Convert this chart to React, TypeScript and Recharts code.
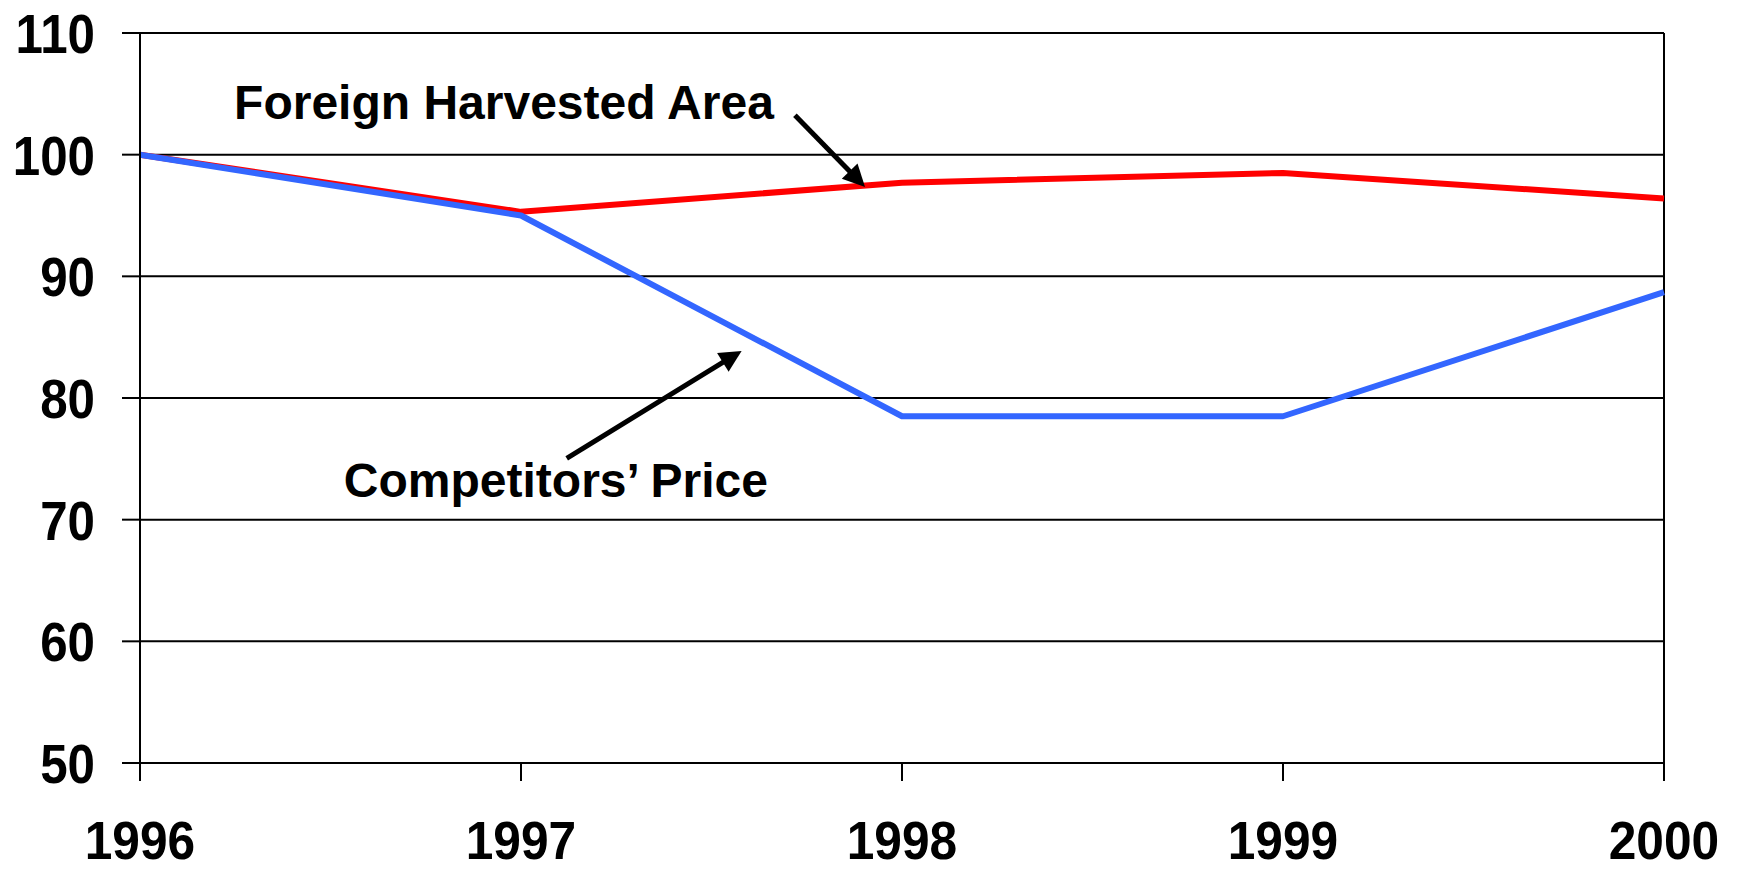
import React from "react";
import {
  LineChart,
  Line,
  XAxis,
  YAxis,
  CartesianGrid,
  ReferenceLine,
  ReferenceDot,
} from "recharts";

const years = [1996, 1997, 1998, 1999, 2000];
const foreignArea = [100, 95.3, 97.7, 98.5, 96.4];
const competitorsPrice = [100, 95.0, 78.5, 78.5, 88.7];
const yTicks = [50, 60, 70, 80, 90, 100, 110];

const annotations = [
  { text: "Foreign Harvested Area", x: 1996.247, y: 102.91 },
  { text: "Competitors\u2019 Price", x: 1996.535, y: 71.85 },
];
const arrows = [
  { from: { x: 1997.719, y: 103.24 }, to: { x: 1997.903, y: 97.35 } },
  { from: { x: 1997.12, y: 75.03 }, to: { x: 1997.579, y: 83.87 } },
];

const data = years.map((yr, i) => ({
  year: yr,
  foreign: foreignArea[i],
  price: competitorsPrice[i],
}));

const FONT = '"Liberation Sans", Arial, Helvetica, sans-serif';

const YTick = (props: any) => {
  const { x, y, payload } = props;
  return (
    <g transform={`translate(${x},${y}) scale(0.88,1)`}>
      <text
        x={0}
        y={0}
        dy={20}
        textAnchor="end"
        fontFamily={FONT}
        fontWeight="bold"
        fontSize={56}
        fill="#000"
      >
        {payload.value}
      </text>
    </g>
  );
};

const XTick = (props: any) => {
  const { x, y, payload } = props;
  return (
    <g transform={`translate(${x},${y}) scale(0.92,1)`}>
      <text
        x={0}
        y={0}
        dy={76}
        textAnchor="middle"
        fontFamily={FONT}
        fontWeight="bold"
        fontSize={54}
        fill="#000"
      >
        {payload.value}
      </text>
    </g>
  );
};

const ArrowShape = (props: any) => {
  const { x1, y1, x2, y2 } = props;
  const dx = x2 - x1;
  const dy = y2 - y1;
  const len = Math.sqrt(dx * dx + dy * dy) || 1;
  const ux = dx / len;
  const uy = dy / len;
  const headLen = 22;
  const headHalf = 11;
  const bx = x2 - ux * headLen;
  const by = y2 - uy * headLen;
  const px = -uy;
  const py = ux;
  return (
    <g>
      <line
        x1={x1}
        y1={y1}
        x2={x2 - ux * headLen * 0.7}
        y2={y2 - uy * headLen * 0.7}
        stroke="#000"
        strokeWidth={5}
      />
      <polygon
        points={`${x2},${y2} ${bx + px * headHalf},${by + py * headHalf} ${bx - px * headHalf},${by - py * headHalf}`}
        fill="#000"
      />
    </g>
  );
};

const makeTextShape = (text: string) => (props: any) => {
  const { cx, cy } = props;
  return (
    <text
      x={cx}
      y={cy}
      fontFamily={FONT}
      fontWeight="bold"
      fontSize={48}
      fill="#000"
    >
      {text}
    </text>
  );
};

export default function App() {
  return (
    <div
      style={{
        position: "absolute",
        left: 0,
        top: 0,
        width: 1738,
        height: 870,
        background: "#fff",
      }}
    >
      <LineChart
        width={1738}
        height={870}
        data={data}
        margin={{ top: 33, right: 74, bottom: 0, left: 0 }}
      >
        <CartesianGrid
          horizontal={true}
          vertical={false}
          stroke="#000"
          strokeWidth={2}
        />
        <XAxis
          dataKey="year"
          type="number"
          domain={[1996, 2000]}
          ticks={years}
          interval={0}
          height={107}
          tickSize={18}
          tickMargin={2}
          axisLine={{ stroke: "#000", strokeWidth: 2 }}
          tickLine={{ stroke: "#000", strokeWidth: 2 }}
          tick={<XTick />}
        />
        <YAxis
          type="number"
          domain={[50, 110]}
          ticks={yTicks}
          interval={0}
          width={140}
          tickSize={18}
          tickMargin={27}
          axisLine={{ stroke: "#000", strokeWidth: 2 }}
          tickLine={{ stroke: "#000", strokeWidth: 2 }}
          tick={<YTick />}
        />
        <ReferenceLine x={2000} stroke="#000" strokeWidth={2} />
        <Line
          type="linear"
          dataKey="foreign"
          stroke="#FF0000"
          strokeWidth={6}
          dot={false}
          strokeLinejoin="round"
          isAnimationActive={false}
        />
        <Line
          type="linear"
          dataKey="price"
          stroke="#3366FF"
          strokeWidth={6}
          dot={false}
          strokeLinejoin="round"
          isAnimationActive={false}
        />
        {arrows.map((a, i) => (
          <ReferenceLine
            key={"arrow" + i}
            segment={[a.from, a.to]}
            shape={ArrowShape}
            ifOverflow="visible"
          />
        ))}
        {annotations.map((a, i) => (
          <ReferenceDot
            key={"ann" + i}
            x={a.x}
            y={a.y}
            r={0}
            ifOverflow="visible"
            shape={makeTextShape(a.text)}
          />
        ))}
      </LineChart>
    </div>
  );
}
